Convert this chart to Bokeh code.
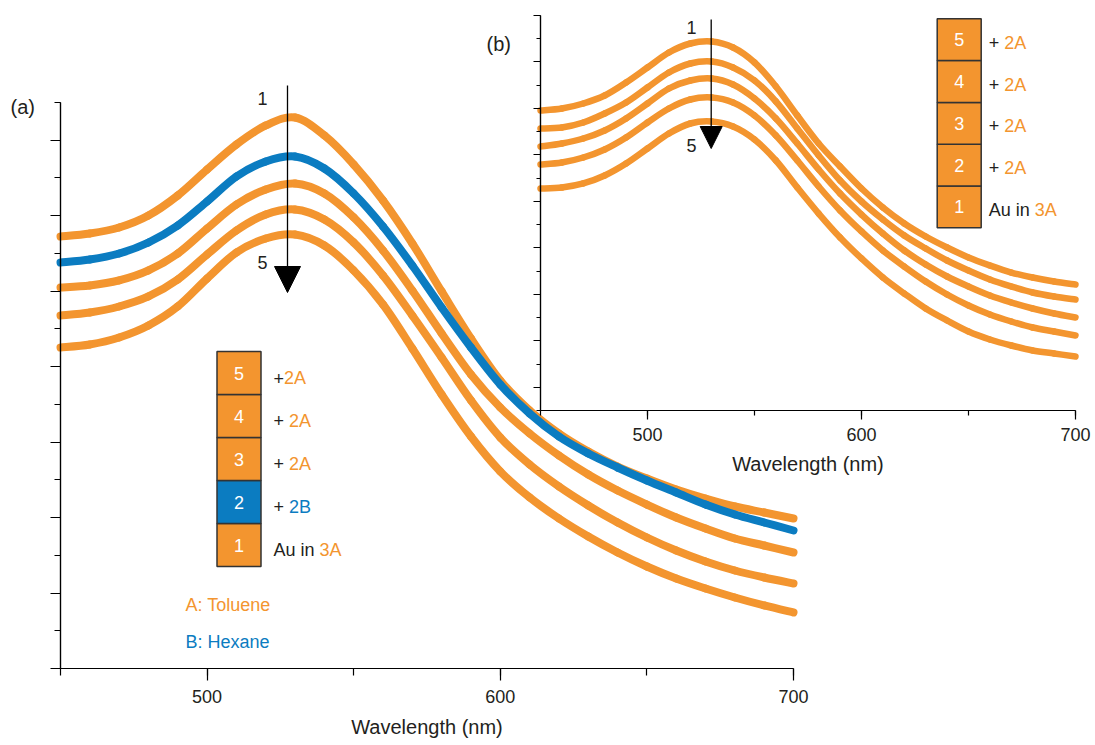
from bokeh.plotting import figure
from bokeh.layouts import row
from bokeh.models import FixedTicker, Label, Arrow, NormalHead, ColumnDataSource, LinearAxis, Range1d
from bokeh.core.properties import value
from bokeh.embed import file_html
from bokeh.resources import INLINE

# ---------------- data ----------------
wavelength = list(range(450, 701, 10))

# panel (a): 1 Au in toluene, 2 + hexane, 3-5 + toluene
a_spec1 = [1.1449, 1.1529, 1.1688, 1.2005, 1.2535, 1.3225, 1.3887, 1.4391, 1.4603, 1.4126, 1.3357,
           1.2403, 1.1264, 0.9992, 0.8746, 0.7633, 0.6838, 0.6228, 0.5751, 0.5353, 0.5035, 0.4744,
           0.4505, 0.4293, 0.4134, 0.3975]
a_spec2 = [1.0760, 1.0839, 1.0998, 1.1290, 1.1741, 1.2376, 1.3039, 1.3436, 1.3569, 1.3251, 1.2589,
           1.1714, 1.0680, 0.9567, 0.8507, 0.7527, 0.6758, 0.6148, 0.5698, 0.5327, 0.4982, 0.4664,
           0.4346, 0.4081, 0.3869, 0.3657]
a_spec3 = [1.0097, 1.0150, 1.0283, 1.0548, 1.0998, 1.1661, 1.2297, 1.2694, 1.2854, 1.2589, 1.1953,
           1.1078, 1.0018, 0.8878, 0.7792, 0.6917, 0.6228, 0.5645, 0.5141, 0.4717, 0.4346, 0.4002,
           0.3710, 0.3445, 0.3260, 0.3074]
a_spec4 = [0.9355, 0.9435, 0.9594, 0.9859, 1.0309, 1.0972, 1.1608, 1.2032, 1.2165, 1.1899, 1.1290,
           1.0415, 0.9355, 0.8242, 0.7103, 0.6122, 0.5406, 0.4823, 0.4320, 0.3869, 0.3472, 0.3127,
           0.2836, 0.2597, 0.2412, 0.2253]
a_spec5 = [0.8507, 0.8587, 0.8772, 0.9090, 0.9594, 1.0336, 1.1025, 1.1396, 1.1502, 1.1210, 1.0548,
           0.9647, 0.8481, 0.7262, 0.6148, 0.5221, 0.4532, 0.3975, 0.3498, 0.3074, 0.2703, 0.2385,
           0.2120, 0.1882, 0.1670, 0.1484]

# panel (b): 1 Au in toluene, 2-5 + toluene
b_spec1 = [1.2911, 1.2997, 1.3213, 1.3557, 1.4116, 1.4762, 1.5408, 1.5795, 1.5881, 1.5623, 1.4977,
           1.3944, 1.2696, 1.1491, 1.0501, 0.9554, 0.8737, 0.8048, 0.7489, 0.7015, 0.6585, 0.6241,
           0.5939, 0.5724, 0.5552, 0.5423]
b_spec2 = [1.2137, 1.2180, 1.2395, 1.2782, 1.3256, 1.3901, 1.4547, 1.4934, 1.5020, 1.4762, 1.4203,
           1.3299, 1.2137, 1.0975, 0.9899, 0.8995, 0.8220, 0.7532, 0.6972, 0.6456, 0.6025, 0.5638,
           0.5337, 0.5078, 0.4906, 0.4777]
b_spec3 = [1.1362, 1.1491, 1.1706, 1.2051, 1.2567, 1.3213, 1.3858, 1.4203, 1.4289, 1.4030, 1.3428,
           1.2567, 1.1491, 1.0372, 0.9339, 0.8435, 0.7618, 0.6886, 0.6284, 0.5767, 0.5337, 0.4949,
           0.4648, 0.4390, 0.4175, 0.4003]
b_spec4 = [1.0587, 1.0673, 1.0889, 1.1233, 1.1749, 1.2395, 1.2997, 1.3385, 1.3471, 1.3256, 1.2696,
           1.1835, 1.0760, 0.9641, 0.8608, 0.7704, 0.6886, 0.6197, 0.5552, 0.4992, 0.4519, 0.4132,
           0.3830, 0.3572, 0.3400, 0.3228]
b_spec5 = [0.9554, 0.9597, 0.9770, 1.0114, 1.0630, 1.1276, 1.1922, 1.2352, 1.2438, 1.2223, 1.1663,
           1.0760, 0.9597, 0.8478, 0.7446, 0.6542, 0.5724, 0.5035, 0.4390, 0.3873, 0.3400, 0.3056,
           0.2797, 0.2582, 0.2453, 0.2324]

x_major = [500, 600, 700]
x_minor = [450, 500, 550, 600, 650, 700]

a_steps = ["1", "2", "3", "4", "5"]
a_prefix = ["Au in ", "+ ", "+ ", "+ ", "+"]
a_solvent = ["3A", "2B", "2A", "2A", "2A"]
b_steps = ["1", "2", "3", "4", "5"]
b_prefix = ["Au in ", "+ ", "+ ", "+ ", "+ "]
b_solvent = ["3A", "2A", "2A", "2A", "2A"]
solvent_names = ["A: Toluene", "B: Hexane"]

# ---------------- style ----------------
ORANGE = "#F3952F"
BLUE = "#0B7CC1"
TXT = "#231F20"
FONT = "Liberation Sans"
CW = {"A": 0.667, "u": 0.556, " ": 0.278, "i": 0.222, "n": 0.556, "+": 0.584}


def text_w(s, size):
    return sum(CW.get(c, 0.556) for c in s) * size


def sol_color(s):
    return BLUE if s.endswith("B") else ORANGE


def smooth_source(xs, ys):
    """Catmull-Rom curve through the measured points, as cubic Bezier segments."""
    n = len(xs)
    d = dict(x0=[], y0=[], x1=[], y1=[], cx0=[], cy0=[], cx1=[], cy1=[])
    for i in range(n - 1):
        xm, ym = (xs[i - 1], ys[i - 1]) if i > 0 else (xs[i], ys[i])
        xp, yp = (xs[i + 2], ys[i + 2]) if i + 2 < n else (xs[i + 1], ys[i + 1])
        d["x0"].append(xs[i]); d["y0"].append(ys[i])
        d["x1"].append(xs[i + 1]); d["y1"].append(ys[i + 1])
        d["cx0"].append(xs[i] + (xs[i + 1] - xm) / 6.0)
        d["cy0"].append(ys[i] + (ys[i + 1] - ym) / 6.0)
        d["cx1"].append(xs[i + 1] - (xp - xs[i]) / 6.0)
        d["cy1"].append(ys[i + 1] - (yp - ys[i]) / 6.0)
    return ColumnDataSource(d)


def make_panel(width, height, L, R, T, B, ymax, y_long, y_short, x_out, y_out,
               standoffs, transparent=False):
    """Frame fills the whole canvas; axes are pinned at wavelength 450 / value 0."""
    sx = (R - L) / 250.0
    sy = (B - T) / ymax
    xr = Range1d(450 - L / sx, 450 + (width - L) / sx)
    yr = Range1d(-(height - B) / sy, B / sy)
    kw = {}
    if transparent:
        kw = dict(background_fill_color=None, border_fill_color=None)
    p = figure(width=width, height=height, x_range=xr, y_range=yr, title=None,
               output_backend="svg", toolbar_location=None, y_axis_location=None,
               min_border=0, **kw)
    p.xgrid.visible = False
    p.ygrid.visible = False
    p.outline_line_color = None
    xa = p.xaxis[0]
    xa.fixed_location = 0.0
    xa.bounds = (450, 700)
    xa.ticker = FixedTicker(ticks=x_major, minor_ticks=x_minor)
    xa.axis_line_color = "black"
    xa.axis_line_width = 1.2
    xa.major_tick_line_width = 1.2
    xa.minor_tick_line_width = 1.2
    xa.major_tick_in = 0
    xa.minor_tick_in = 0
    xa.major_tick_out = x_out[0]
    xa.minor_tick_out = x_out[1]
    xa.major_label_standoff = standoffs[0]
    xa.major_label_text_font = FONT
    xa.major_label_text_font_size = "18px"
    xa.major_label_text_color = TXT
    xa.axis_label = "Wavelength (nm)"
    xa.axis_label_standoff = standoffs[1]
    xa.axis_label_text_font = FONT
    xa.axis_label_text_font_size = "20px"
    xa.axis_label_text_font_style = "normal"
    xa.axis_label_text_color = TXT
    for ticks, out in [(y_long, y_out[0]), (y_short, y_out[1])]:
        ya = LinearAxis(ticker=FixedTicker(ticks=[], minor_ticks=ticks),
                        fixed_location=450, bounds=(0, ymax),
                        axis_line_color="black", axis_line_width=1.2,
                        major_tick_out=0, major_tick_in=0,
                        minor_tick_in=0, minor_tick_out=out, minor_tick_line_width=1.2)
        p.add_layout(ya, "left")
    return p, (lambda px: 450 + (px - L) / sx), (lambda py: (B - py) / sy)


def draw_curve(p, ys, color, width):
    p.bezier(x0="x0", y0="y0", x1="x1", y1="y1", cx0="cx0", cy0="cy0", cx1="cx1", cy1="cy1",
             source=smooth_source(wavelength, ys), line_color=color, line_width=width,
             line_cap="round")


# ---------------- panel (a) ----------------
pa, ax_, ay_ = make_panel(830, 745, 60, 793, 102, 668, 1.5,
                          [round(0.2 * i, 1) for i in range(8)],
                          [round(0.1 * i, 1) for i in range(1, 16, 2)],
                          (12, 7), (10, 6), (9, 10))

for ys, col in [(a_spec1, ORANGE), (a_spec2, BLUE), (a_spec3, ORANGE),
                (a_spec4, ORANGE), (a_spec5, ORANGE)]:
    draw_curve(pa, ys, col, 8)

pa.add_layout(Arrow(end=NormalHead(size=26, fill_color="black", line_color="black"),
                    x_start=ax_(287), y_start=ay_(85), x_end=ax_(287), y_end=ay_(292),
                    line_color="black", line_width=1.3))
for t, py in [("1", 98), ("5", 262)]:
    pa.add_layout(Label(x=ax_(262), y=ay_(py), text=t, text_font=FONT, text_font_size="18px",
                        text_color=TXT, text_align="center", text_baseline="middle"))
pa.add_layout(Label(x=ax_(10), y=ay_(106), text="(a)", text_font=FONT, text_font_size="20px",
                    text_color=TXT, text_align="left", text_baseline="middle"))

box_top, box_h = 351, 43
bx_c = ax_(238.5)
box_y = [ay_(box_top + (4 - i) * box_h + box_h / 2) for i in range(5)]
txt_y = [ay_(box_top + (4 - i) * box_h + box_h / 2 + 5) for i in range(5)]
pa.rect(x=[bx_c] * 5, y=box_y, width=44, height=box_h, width_units="screen", height_units="screen",
        fill_color=[sol_color(s) for s in a_solvent], line_color="#333333", line_width=1.5)
pa.text(x=[bx_c] * 5, y=box_y, text=a_steps, text_font=value(FONT), text_font_size="18px",
        text_color="white", text_align="center", text_baseline="middle")
src = ColumnDataSource(dict(x=[bx_c] * 5, y=txt_y, t=a_prefix))
pa.text(x="x", y="y", text="t", source=src, x_offset=34.5, text_font=value(FONT),
        text_font_size="18px", text_color=TXT, text_align="left", text_baseline="middle")
for i in range(5):
    pa.text(x=[bx_c], y=[txt_y[i]], text=[a_solvent[i]], x_offset=34.5 + text_w(a_prefix[i], 18),
            text_font=value(FONT), text_font_size="18px", text_color=sol_color(a_solvent[i]),
            text_align="left", text_baseline="middle")

pa.text(x=[ax_(185)] * 2, y=[ay_(604), ay_(641)], text=solvent_names, text_font=value(FONT),
        text_font_size="18px", text_color=[ORANGE, BLUE], text_align="left", text_baseline="middle")

# ---------------- panel (b) ----------------
B_X0 = 480
pb, bx_, by_ = make_panel(1095 - B_X0, 490, 540 - B_X0, 1075 - B_X0, 15, 410, 1.7,
                          [round(0.1 * i, 1) for i in range(1, 18, 2)],
                          [round(0.2 * i, 1) for i in range(9)],
                          (9, 5), (7, 4), (8, 9), transparent=True)
pb.margin = (0, 0, 0, -(830 - B_X0))

for ys in [b_spec1, b_spec2, b_spec3, b_spec4, b_spec5]:
    draw_curve(pb, ys, ORANGE, 6.5)

pb.add_layout(Arrow(end=NormalHead(size=22, fill_color="black", line_color="black"),
                    x_start=bx_(710.7 - B_X0), y_start=by_(19), x_end=bx_(710.7 - B_X0), y_end=by_(148),
                    line_color="black", line_width=1.3))
for t, py in [("1", 27), ("5", 145)]:
    pb.add_layout(Label(x=bx_(691 - B_X0), y=by_(py), text=t, text_font=FONT, text_font_size="18px",
                        text_color=TXT, text_align="center", text_baseline="middle"))
pb.add_layout(Label(x=bx_(486 - B_X0), y=by_(43), text="(b)", text_font=FONT, text_font_size="20px",
                    text_color=TXT, text_align="left", text_baseline="middle"))

bbox_top, bbox_h = 18.3, 41.8
bbx_c = bx_(958.7 - B_X0)
bbox_y = [by_(bbox_top + (4 - i) * bbox_h + bbox_h / 2) for i in range(5)]
btxt_y = [by_(bbox_top + (4 - i) * bbox_h + bbox_h / 2 + 3) for i in range(5)]
pb.rect(x=[bbx_c] * 5, y=bbox_y, width=44, height=bbox_h, width_units="screen", height_units="screen",
        fill_color=ORANGE, line_color="#333333", line_width=1.5)
pb.text(x=[bbx_c] * 5, y=bbox_y, text=b_steps, text_font=value(FONT), text_font_size="18px",
        text_color="white", text_align="center", text_baseline="middle")
srcb = ColumnDataSource(dict(x=[bbx_c] * 5, y=btxt_y, t=b_prefix))
pb.text(x="x", y="y", text="t", source=srcb, x_offset=29.5, text_font=value(FONT),
        text_font_size="18px", text_color=TXT, text_align="left", text_baseline="middle")
for i in range(5):
    pb.text(x=[bbx_c], y=[btxt_y[i]], text=[b_solvent[i]], x_offset=29.5 + text_w(b_prefix[i], 18),
            text_font=value(FONT), text_font_size="18px", text_color=sol_color(b_solvent[i]),
            text_align="left", text_baseline="middle")

layout = row(pa, pb)
open("out.html", "w").write(file_html(layout, INLINE))
